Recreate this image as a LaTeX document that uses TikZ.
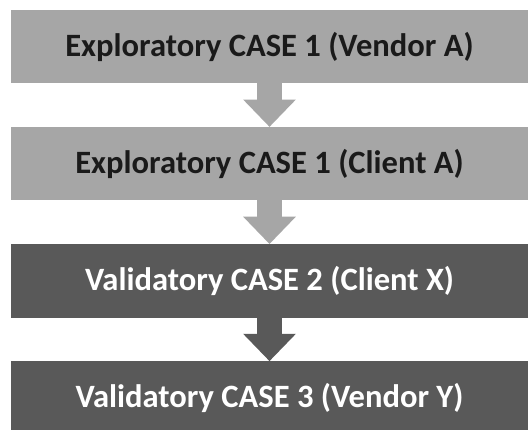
\documentclass[tikz,border=0pt]{standalone}
\usepackage{fontspec}
\setmainfont{Carlito}
\usepackage{xcolor}
\usetikzlibrary{arrows.meta,positioning}

\definecolor{boxlight}{HTML}{A6A6A6}
\definecolor{boxdark}{HTML}{595959}
\definecolor{textdark}{HTML}{1A1A1A}

\begin{document}
\begin{tikzpicture}[node distance=1.3cm, >=Triangle]
                    % Define styles
                    \tikzstyle{casebox} = [rectangle, minimum width=15.51cm, minimum height=2.2cm, inner sep=0pt, font=\bfseries\fontsize{27.8}{33}\selectfont]
                    \tikzstyle{lightcase} = [casebox, fill=boxlight, text=textdark]
                    \tikzstyle{darkcase} = [casebox, fill=boxdark, text=white]
                    \tikzstyle{flow} = [line width=0.75cm, -{Triangle[width=1.53cm, length=0.82cm]}, shorten <=-0.5pt, xshift=0.15cm]

                    \fill[white] (0,0) rectangle (15.84,-12.9);
                    \useasboundingbox (0,0) rectangle (15.84,-12.9);

                    % Nodes
                    \node [lightcase] (vendorA) at (8.085,-1.4) {Exploratory CASE 1 (Vendor A)};
                    \node [lightcase, below=of vendorA] (clientA) {Exploratory CASE 1 (Client A)};
                    \node [darkcase, below=of clientA] (clientX) {Validatory CASE 2 (Client X)};
                    \node [darkcase, below=of clientX] (vendorY) {Validatory CASE 3 (Vendor Y)};

                    % Arrows
                    \draw [flow, draw=boxlight] (vendorA) -- (clientA);
                    \draw [flow, draw=boxlight] (clientA) -- (clientX);
                    \draw [flow, draw=boxdark] (clientX) -- (vendorY);
                \end{tikzpicture}
\end{document}
